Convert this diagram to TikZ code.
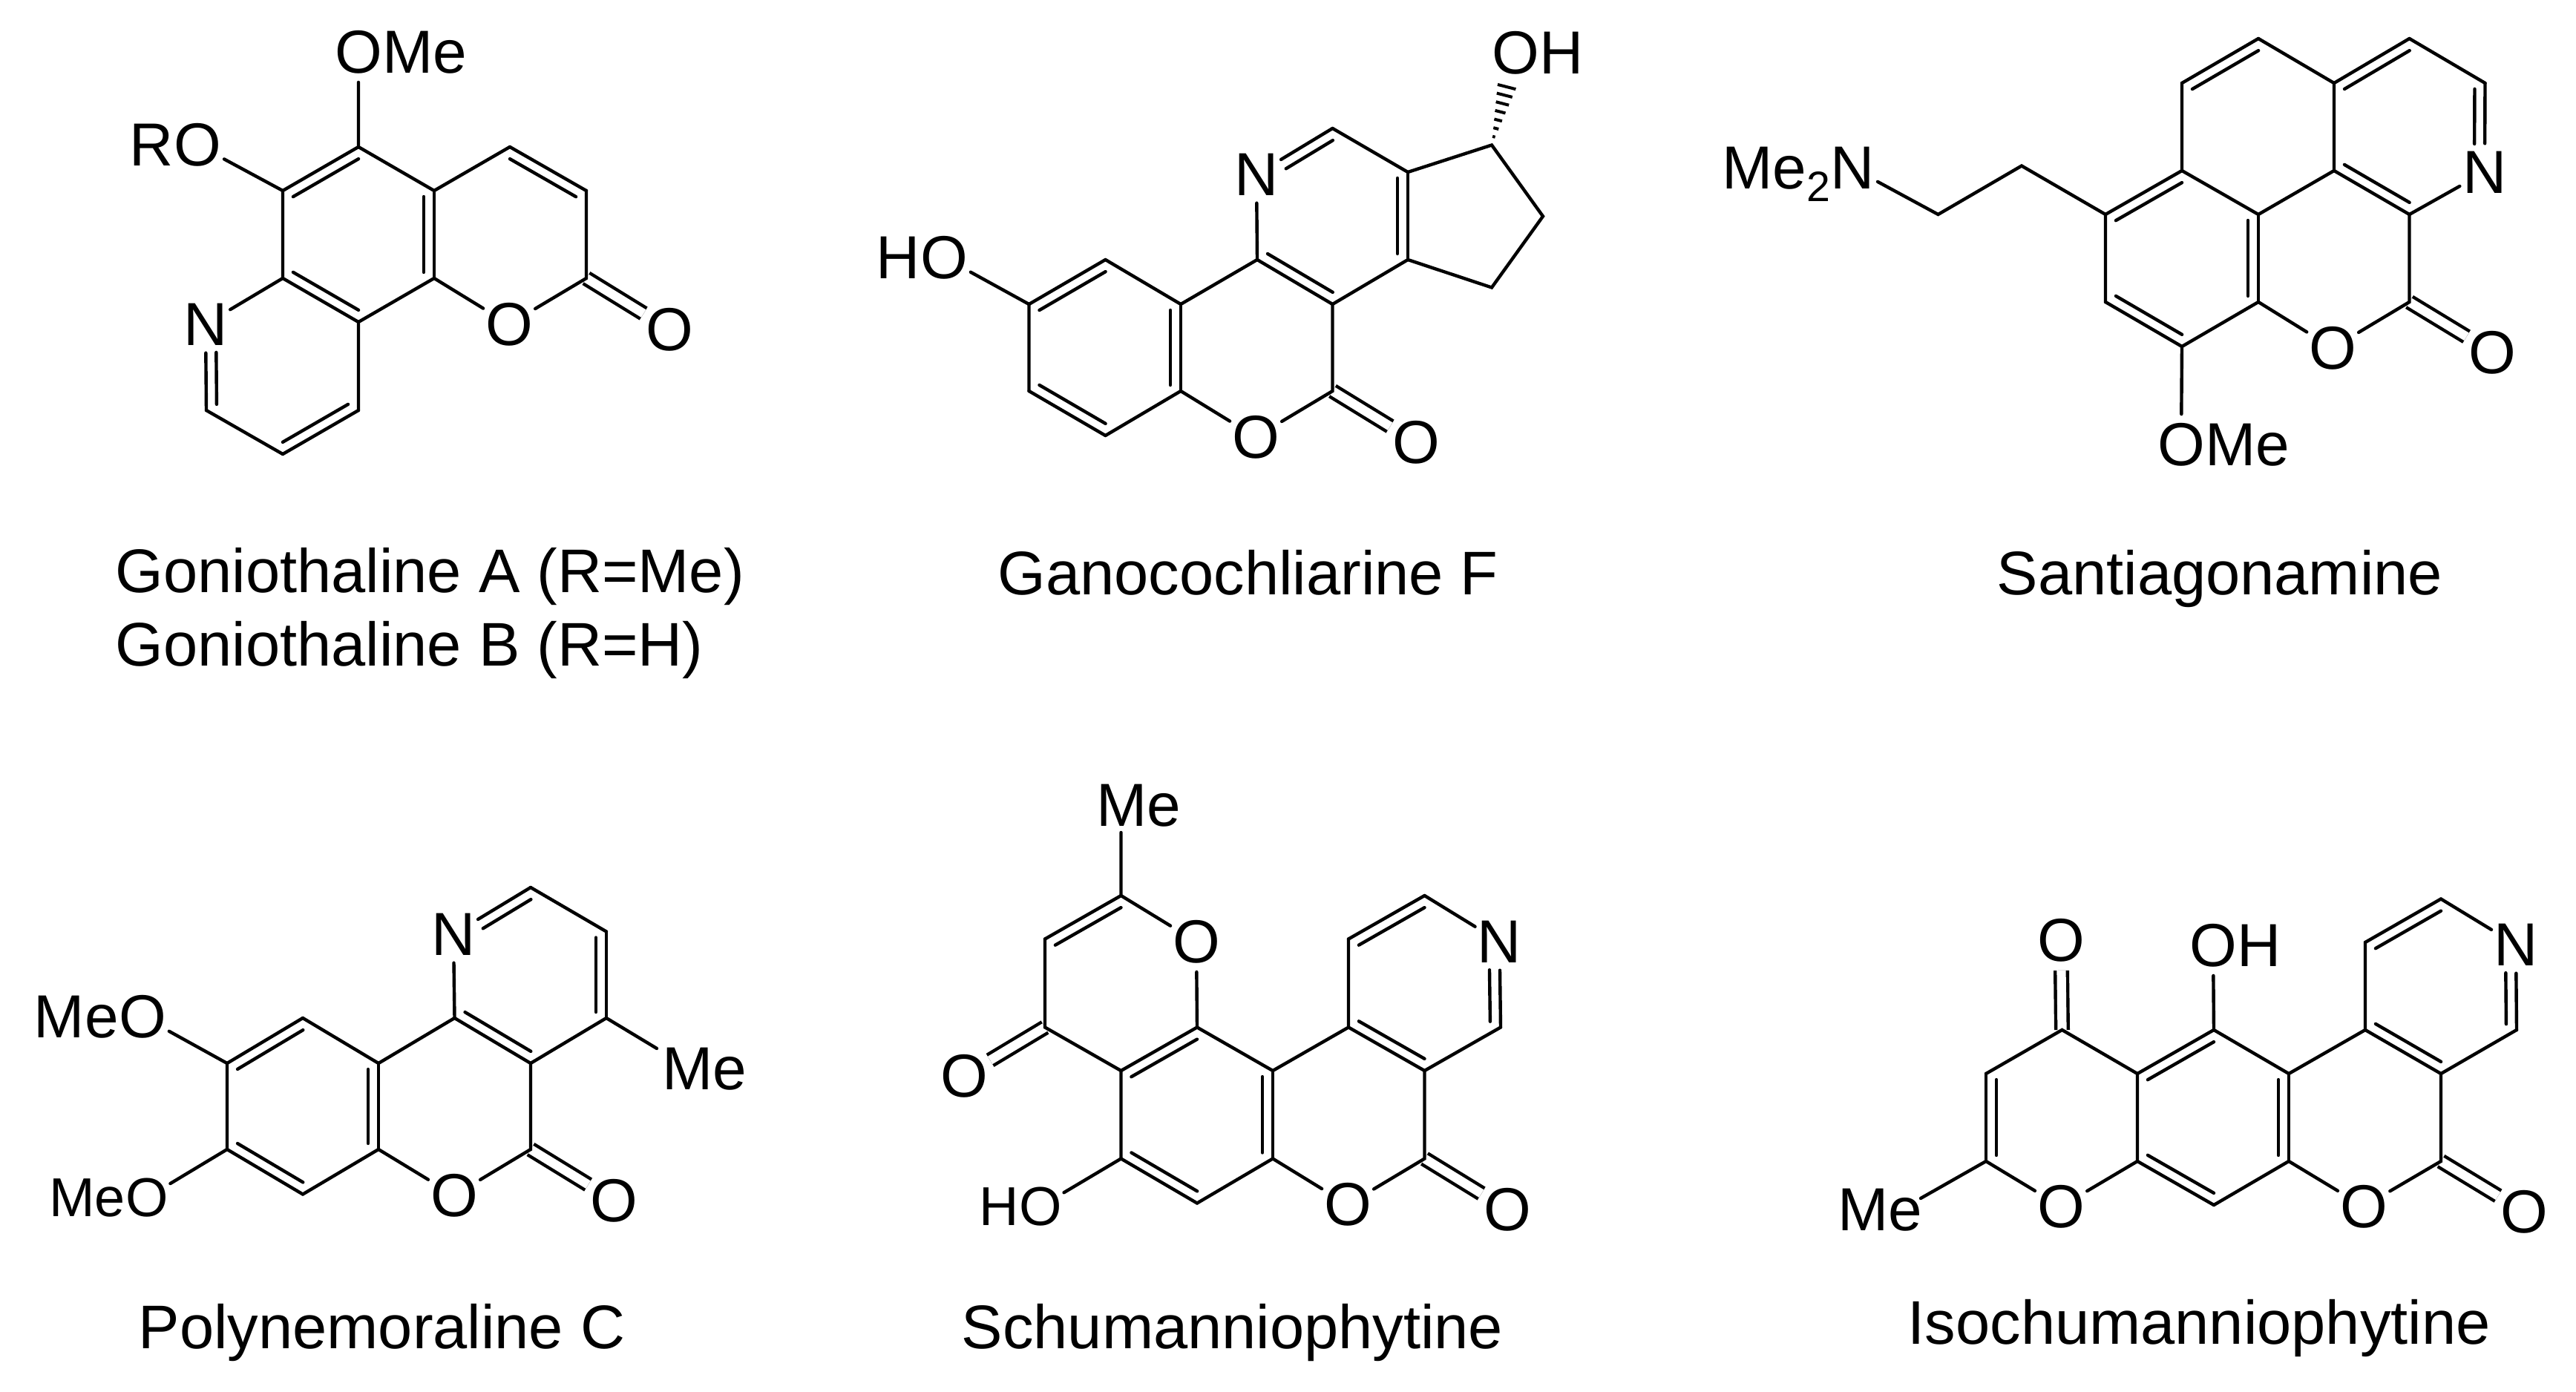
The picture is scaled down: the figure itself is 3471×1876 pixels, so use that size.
\documentclass[tikz,border=0pt]{standalone}
\usepackage{fontspec}
\setmainfont{Liberation Sans}
\usetikzlibrary{calc}

% double bond: outer line a-b, inner line on the ring side (right of a->b unless given)
\newcommand{\dblbond}[3][-90]{%
  \draw[bond] (#2) -- (#3)
    ($(#2)!0.08cm!(#3)!0.14cm!#1:(#3)$) -- ($(#3)!0.08cm!(#2)!0.14cm!-#1:(#2)$);}
% same, with the labelled atom at the end b
\newcommand{\dblnbond}[3][-90]{%
  \draw[bond] (#2) -- (#3)
    ($(#2)!0.08cm!(#3)!0.14cm!#1:(#3)$) -- ($(#3)!0.38cm!(#2)!0.14cm!-#1:(#2)$);}

\begin{document}
\begin{tikzpicture}[
  x=0.01cm, y=-0.01cm,
  bond/.style={line width=0.044cm, line cap=round},
  cobond/.style={line width=0.044cm, line cap=butt, double, double distance=0.122cm},
  hash/.style={line width=0.04cm},
  atom/.style={circle, inner sep=-0.02cm, font=\fontsize{23.3}{28}\selectfont},
  smallatom/.style={atom, font=\fontsize{21}{25}\selectfont},
  group/.style={inner sep=0pt, text depth=0pt, font=\fontsize{23.3}{28}\selectfont},
  smallgroup/.style={group, font=\fontsize{21}{25}\selectfont},
  title/.style={anchor=base west, inner sep=0pt, font=\fontsize{23.62}{28}\selectfont}
]
\useasboundingbox (0,0) rectangle (3471,1876);

% ===== Goniothaline =====
\coordinate (gon1) at (483,198);
\coordinate (gon2) at (585,257);
\coordinate (gon3) at (585,375);
\coordinate (gon4) at (483,434);
\coordinate (gon5) at (381,375);
\coordinate (gon6) at (381,257);
\coordinate (gon7) at (687,198);
\coordinate (gon8) at (790,257);
\coordinate (gon9) at (790,375);
\coordinate (gon10) at (483,553);
\coordinate (gon11) at (381,612);
\coordinate (gon12) at (278,553);
\node[atom] (gonn) at (277,437) {N};
\node[atom] (gono) at (686,437) {O};
\node[atom] (gonco) at (902,444) {O};
\node[atom] (gonome) at (483,70) {O};
\node[group, anchor=west, xshift=0.315cm] (gonme) at (gonome.center) {Me};
\node[atom] (gonor) at (266,195) {O};
\node[group, anchor=east, xshift=-0.315cm] (gonr) at (gonor.center) {R};

\draw[cobond] (gon9) -- (gonco);
\draw[bond] (gon1) -- (gon2) (gon3) -- (gon4) (gon5) -- (gon6);
\dblbond{gon6}{gon1}
\dblbond{gon2}{gon3}
\dblbond{gon4}{gon5}
\draw[bond] (gon2) -- (gon7) (gon8) -- (gon9) -- (gono) -- (gon3);
\dblbond{gon7}{gon8}
\draw[bond] (gon5) -- (gonn) (gon4) -- (gon10) (gon11) -- (gon12);
\dblbond{gon10}{gon11}
\dblnbond{gon12}{gonn}
\draw[bond] (gon1) -- (gonome) (gon6) -- (gonor);

\node[title] (gonname) at (155,799) {Goniothaline A (R=Me)};
\node[title] (gonnameb) at (155,897) {Goniothaline B (R=H)};

% ===== Ganocochliarine F =====
\coordinate (gan1) at (1489.5,350);
\coordinate (gan2) at (1591,410);
\coordinate (gan3) at (1591,527);
\coordinate (gan4) at (1489.5,587);
\coordinate (gan5) at (1386.5,527);
\coordinate (gan6) at (1386.5,410);
\coordinate (gan7) at (1694,350);
\coordinate (gan8) at (1795.5,410);
\coordinate (gan9) at (1897,350);
\coordinate (gan10) at (1897,232);
\coordinate (gan11) at (1795.5,173);
\coordinate (gan12) at (1795.5,527);
\coordinate (gan13) at (2010,195.5);
\coordinate (gan14) at (2079,291.5);
\coordinate (gan15) at (2010,387.5);
\node[atom] (gann) at (1693,235) {N};
\node[atom] (gano) at (1692,589) {O};
\node[atom] (ganco) at (1908,596) {O};
\node[atom] (ganoh) at (2042,71) {O};
\node[group, anchor=west, xshift=0.315cm] (ganh) at (ganoh.center) {H};
\node[atom] (ganho) at (1272,347) {O};
\node[group, anchor=east, xshift=-0.315cm] (ganhl) at (ganho.center) {H};

\draw[cobond] (gan12) -- (ganco);
\draw[bond] (gan1) -- (gan2) (gan3) -- (gan4) (gan5) -- (gan6);
\dblbond{gan6}{gan1}
\dblbond{gan2}{gan3}
\dblbond{gan4}{gan5}
\draw[bond] (gan2) -- (gan7) -- (gann) (gan11) -- (gan10) (gan9) -- (gan8) -- (gan12) -- (gano) -- (gan3);
\dblnbond[90]{gan11}{gann}
\dblbond{gan10}{gan9}
\dblbond{gan8}{gan7}
\draw[bond] (gan10) -- (gan13) -- (gan14) -- (gan15) -- (gan9) (gan6) -- (ganho);
\foreach \t in {0.09,0.18,0.27,0.36,0.45,0.54,0.63} {
  \pgfmathsetmacro{\w}{\t*0.2}
  \draw[hash] ($(gan13)!\t!(ganoh)!\w cm!90:(ganoh)$) -- ($(gan13)!\t!(ganoh)!\w cm!-90:(ganoh)$);
}

\node[title] (ganname) at (1344,801) {Ganocochliarine F};

% ===== Santiagonamine =====
\coordinate (san1) at (3043,52);
\coordinate (san2) at (2940,112);
\coordinate (san3) at (2940,230);
\coordinate (san4) at (3043,289);
\coordinate (san5) at (3145,230);
\coordinate (san6) at (3145,112);
\coordinate (san7) at (3246.5,52);
\coordinate (san8) at (3348.5,112);
\coordinate (san9) at (3246.5,289);
\coordinate (san10) at (3043,407);
\coordinate (san11) at (2940,467);
\coordinate (san12) at (2837,407);
\coordinate (san13) at (2837,289);
\coordinate (san14) at (3246.5,407);
\coordinate (san15) at (2724,223.5);
\coordinate (san16) at (2611.5,289);
\node[atom] (sann) at (3348,232) {N};
\node[atom] (sano) at (3143,469) {O};
\node[atom] (sanco) at (3358.5,475) {O};
\node[atom] (sanome) at (2939,599) {O};
\node[group, anchor=west, xshift=0.315cm] (sanme) at (sanome.center) {Me};
\node[atom] (sanamine) at (2496,226.5) {N};
\node[group, anchor=east, xshift=-0.29cm] (sanmetwo) at (sanamine.center) {Me\raisebox{-0.2em}{\fontsize{16.3}{19}\selectfont 2}};

\draw[cobond] (san14) -- (sanco);
\dblbond{san2}{san1}
\draw[bond] (san3) -- (san2) (san1) -- (san6) -- (san5) -- (san4) -- (san3);
\dblbond{san6}{san7}
\draw[bond] (san7) -- (san8) (sann) -- (san9) -- (san14) -- (sano) -- (san10);
\dblnbond{san8}{sann}
\dblbond{san9}{san5}
\dblbond{san13}{san3}
\dblbond{san4}{san10}
\dblbond{san11}{san12}
\draw[bond] (san10) -- (san11) (san12) -- (san13) -- (san15) -- (san16) -- (sanamine) (san11) -- (sanome);

\node[title] (sanname) at (2690,801) {Santiagonamine};

% ===== Polynemoraline C =====
\coordinate (pol1) at (408,1372);
\coordinate (pol2) at (510,1433);
\coordinate (pol3) at (510,1549);
\coordinate (pol4) at (408,1609.5);
\coordinate (pol5) at (306,1549);
\coordinate (pol6) at (306,1433);
\coordinate (pol7) at (612.5,1372);
\coordinate (pol8) at (715,1433);
\coordinate (pol9) at (715,1549);
\coordinate (pol10) at (817,1372);
\coordinate (pol11) at (817,1255.5);
\coordinate (pol12) at (715,1196);
\coordinate (polmetip) at (885,1413);
\node[atom] (poln) at (611,1259) {N};
\node[atom] (polo) at (612,1611) {O};
\node[atom] (polco) at (827.5,1618) {O};
\node[group] (polme) at (949,1440) {Me};
\node[atom] (polmo) at (192,1370) {O};
\node[group, anchor=east, xshift=-0.315cm] (polmea) at (polmo.center) {Me};
\node[smallatom] (polmob) at (198,1614) {O};
\node[smallgroup, anchor=east, xshift=-0.285cm] (polmeb) at (polmob.center) {Me};

\draw[cobond] (pol9) -- (polco);
\draw[bond] (pol1) -- (pol2) (pol3) -- (pol4) (pol5) -- (pol6);
\dblbond{pol2}{pol3}
\dblbond{pol4}{pol5}
\dblbond{pol6}{pol1}
\draw[bond] (pol2) -- (pol7) -- (poln) (pol12) -- (pol11) (pol10) -- (pol8) -- (pol9) -- (polo) -- (pol3);
\dblnbond[90]{pol12}{poln}
\dblbond{pol11}{pol10}
\dblbond{pol8}{pol7}
\draw[bond] (pol10) -- (polmetip) (pol6) -- (polmo) (pol5) -- (polmob);

\node[title] (polname) at (186,1817) {Polynemoraline C};

% ===== Schumanniophytine =====
\coordinate (sch1) at (1510.5,1443);
\coordinate (sch2) at (1613,1384.5);
\coordinate (sch3) at (1715,1443);
\coordinate (sch4) at (1715,1561.5);
\coordinate (sch5) at (1613,1621.5);
\coordinate (sch6) at (1510.5,1561.5);
\coordinate (sch7) at (1408,1384.5);
\coordinate (sch8) at (1408,1265.5);
\coordinate (sch9) at (1510.5,1207);
\coordinate (sch10) at (1817,1384.5);
\coordinate (sch11) at (1919.5,1443);
\coordinate (sch12) at (2022,1384.5);
\coordinate (sch13) at (1919.5,1207);
\coordinate (sch14) at (1817,1265.5);
\coordinate (sch15) at (1919.5,1561.5);
\coordinate (schtop) at (1510.5,1122);
\node[atom] (schpo) at (1612,1269) {O};
\node[atom] (schko) at (1299,1450) {O};
\node[group] (schme) at (1534,1085) {Me};
\node[atom] (schn) at (2020.5,1269) {N};
\node[atom] (scho) at (1816,1623.5) {O};
\node[atom] (schco) at (2031,1630) {O};
\node[smallatom] (schho) at (1402,1626) {O};
\node[smallgroup, anchor=east, xshift=-0.285cm] (schh) at (schho.center) {H};

\draw[cobond] (sch15) -- (schco);
\draw[cobond] (sch7) -- (schko);
\draw[bond] (sch2) -- (sch3) (sch4) -- (sch5) (sch6) -- (sch1);
\dblbond{sch3}{sch4}
\dblbond{sch5}{sch6}
\dblbond{sch1}{sch2}
\draw[bond] (sch1) -- (sch7) -- (sch8) (sch9) -- (schpo) -- (sch2) (sch9) -- (schtop);
\dblbond{sch8}{sch9}
\draw[bond] (sch3) -- (sch10) -- (sch14) (sch13) -- (schn) (sch12) -- (sch11) -- (sch15) -- (scho) -- (sch4) (sch6) -- (schho);
\dblbond{sch14}{sch13}
\dblnbond[90]{sch12}{schn}
\dblbond{sch11}{sch10}

\node[title] (schname) at (1295,1817) {Schumanniophytine};

% ===== Isochumanniophytine =====
\coordinate (iso1) at (2983,1388);
\coordinate (iso2) at (3084,1447);
\coordinate (iso3) at (3084,1565);
\coordinate (iso4) at (2983,1624);
\coordinate (iso5) at (2880,1565);
\coordinate (iso6) at (2880,1447);
\coordinate (iso7) at (2778.5,1388);
\coordinate (iso8) at (2676,1447);
\coordinate (iso9) at (2676,1565);
\coordinate (iso10) at (3187,1388);
\coordinate (iso11) at (3289,1447);
\coordinate (iso12) at (3289,1565);
\coordinate (iso13) at (3391,1388);
\coordinate (iso14) at (3289,1211.5);
\coordinate (iso15) at (3187,1270);
\coordinate (isometip) at (2588,1615);
\node[atom] (isopo) at (2777,1626) {O};
\node[atom] (isoko) at (2777,1267) {O};
\node[atom] (isooh) at (2982,1274) {O};
\node[group, anchor=west, xshift=0.315cm] (isoh) at (isooh.center) {H};
\node[group] (isome) at (2533,1630) {Me};
\node[atom] (ison) at (3390,1273) {N};
\node[atom] (isoo) at (3185,1626) {O};
\node[atom] (isoco) at (3401,1633) {O};

\draw[cobond] (iso12) -- (isoco);
\draw[cobond] (iso7) -- (isoko);
\draw[bond] (iso1) -- (iso2) (iso3) -- (iso4) (iso5) -- (iso6);
\dblbond{iso2}{iso3}
\dblbond{iso4}{iso5}
\dblbond{iso6}{iso1}
\draw[bond] (iso6) -- (iso7) -- (iso8) (iso9) -- (isopo) -- (iso5) (iso9) -- (isometip) (iso1) -- (isooh);
\dblbond{iso9}{iso8}
\draw[bond] (iso2) -- (iso10) -- (iso15) (iso14) -- (ison) (iso13) -- (iso11) -- (iso12) -- (isoo) -- (iso3);
\dblbond{iso15}{iso14}
\dblnbond[90]{iso13}{ison}
\dblbond{iso11}{iso10}

\node[title] (isoname) at (2570,1811) {Isochumanniophytine};

\end{tikzpicture}
\end{document}
